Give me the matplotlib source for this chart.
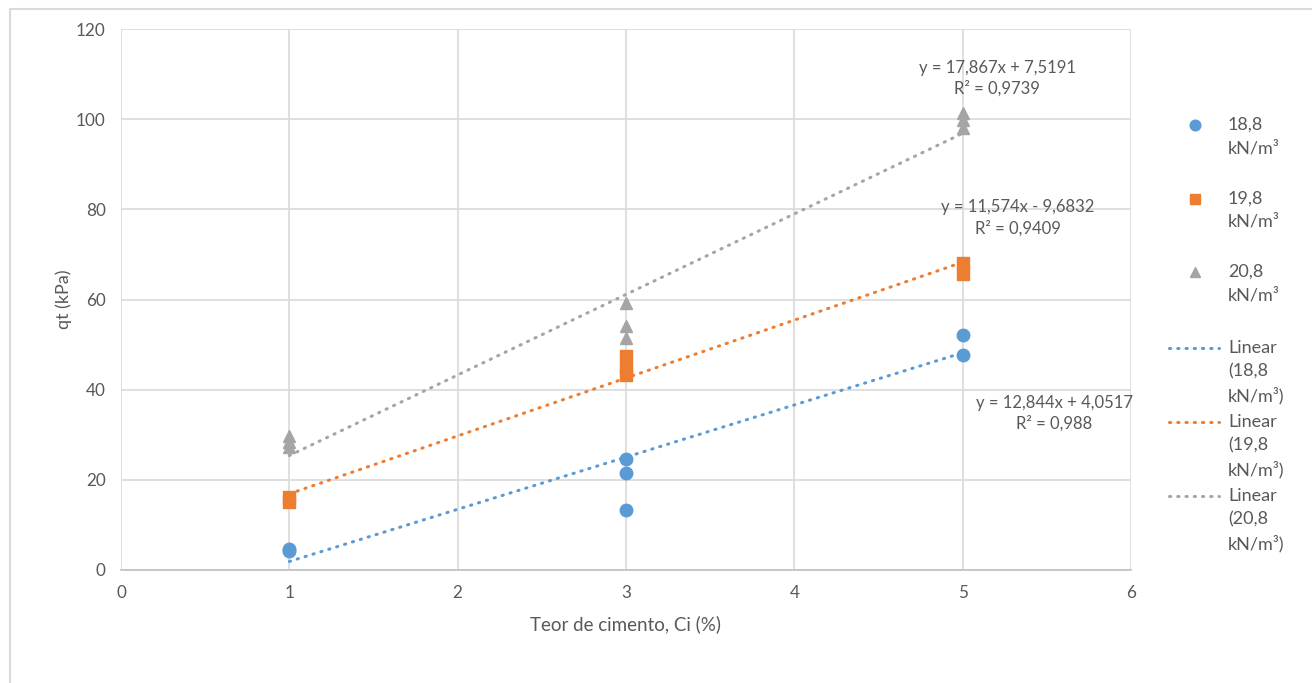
import numpy as np
import matplotlib
matplotlib.use("Agg")
import matplotlib.pyplot as plt

plt.rcParams['font.family'] = ['Lato', 'DejaVu Sans']

TXT = '#595959'
GRID = '#d9d9d9'

# measured points, cement content (%) vs qt (kPa)
x_188 = [1, 1, 3, 3, 3, 5, 5]
qt_188 = [4.6, 4.3, 24.6, 21.6, 13.3, 52.1, 47.7]
x_198 = [1, 1, 3, 3, 3, 5, 5]
qt_198 = [16.3, 15.0, 47.5, 44.8, 43.3, 68.1, 65.7]
x_208 = [1, 1, 1, 3, 3, 3, 5, 5, 5]
qt_208 = [29.8, 28.4, 27.2, 59.2, 54.1, 51.5, 101.4, 99.8, 98.0]

# linear trendlines (slope, intercept, r2)
fit_188 = (11.574, -9.6832, 0.9409)
fit_198 = (12.844, 4.0517, 0.988)
fit_208 = (17.867, 7.5191, 0.9739)

series_names = ['18,8\nkN/m³', '19,8\nkN/m³', '20,8\nkN/m³']
trend_names = ['Linear\n(18,8\nkN/m³)', 'Linear\n(19,8\nkN/m³)', 'Linear\n(20,8\nkN/m³)']
colors = ['#5B9BD5', '#ED7D31', '#A5A5A5']
markers = ['o', 's', '^']

fig = plt.figure(figsize=(13.12, 6.83), dpi=100)
ax = fig.add_axes([121 / 1312, 1 - 570 / 683, 1010 / 1312, 541 / 683])

xs = [x_188, x_198, x_208]
ys = [qt_188, qt_198, qt_208]
fits = [fit_188, fit_198, fit_208]
msizes = [9, 8.5, 9]
dots = (0, (0.4, 2.3))

xl = np.array([1, 5])
for (a, b, r2), c in zip(fits, colors):
    ax.plot(xl, a * xl + b, color=c, lw=2.2, linestyle=dots,
            dash_capstyle='round', zorder=2)
for x, y, c, m, ms in zip(xs, ys, colors, markers, msizes):
    ax.plot(x, y, linestyle='none', marker=m, color=c, ms=ms, mec=c, zorder=3)


def eq_label(fit):
    a, b, r2 = fit
    sign = '+' if b >= 0 else '-'
    fmt = lambda v: ('%g' % v).replace('.', ',')
    return 'y = %sx %s %s\nR² = %s' % (fmt(a), sign, fmt(abs(b)), fmt(r2))


# equation labels where they sit on the chart
eq_kw = dict(ha='center', va='center', fontsize=12, color=TXT, linespacing=1.35)
ax.text(5.204, 109.0, eq_label(fit_208), **eq_kw)
ax.text(5.329, 78.1, eq_label(fit_188), **eq_kw)
ax.text(5.543, 34.7, eq_label(fit_198), **eq_kw)

ax.set_xlim(0, 6)
ax.set_ylim(0, 120)
ax.set_xticks(range(0, 7))
ax.set_yticks(range(0, 121, 20))
ax.grid(True, color=GRID, lw=1.2)
ax.set_axisbelow(True)
for s in ['top', 'right', 'left']:
    ax.spines[s].set_visible(False)
ax.spines['bottom'].set_color('#bfbfbf')
ax.spines['bottom'].set_linewidth(1.2)
ax.tick_params(length=0, labelsize=12.3, labelcolor=TXT, pad=11)

ax.set_xlabel('Teor de cimento, Ci (%)', fontsize=13.5, color=TXT)
ax.xaxis.set_label_coords(0.5, -0.083)
ax.xaxis.label.set_va('top')
ax.set_ylabel('qt (kPa)', fontsize=13, color=TXT)
ax.yaxis.set_label_coords(-0.049, 0.5)

# overlay in pixel units for the legend and the chart border
ov = fig.add_axes([0, 0, 1, 1], facecolor='none')
ov.set_xlim(0, 1312)
ov.set_ylim(683, 0)
ov.axis('off')
ov.plot([10, 10, 1312], [683, 9, 9], color=GRID, lw=1.5)

leg_kw = dict(ha='left', va='top', fontsize=13, color=TXT, linespacing=1.55)
for i, (name, c, m, ms) in enumerate(zip(series_names, colors, markers, msizes)):
    yy = 125 + i * 73.5
    ov.plot([1195], [yy], marker=m, color=c, ms=ms * 0.85, linestyle='none')
    ov.text(1228, yy - 8, name, **leg_kw)
for i, (name, c) in enumerate(zip(trend_names, colors)):
    yy = 348 + i * 74
    ov.plot([1169, 1219], [yy, yy], color=c, lw=2.2, linestyle=dots,
            dash_capstyle='round')
    ov.text(1228, yy - 8, name, **leg_kw)

fig.savefig('out.png', dpi=100)
